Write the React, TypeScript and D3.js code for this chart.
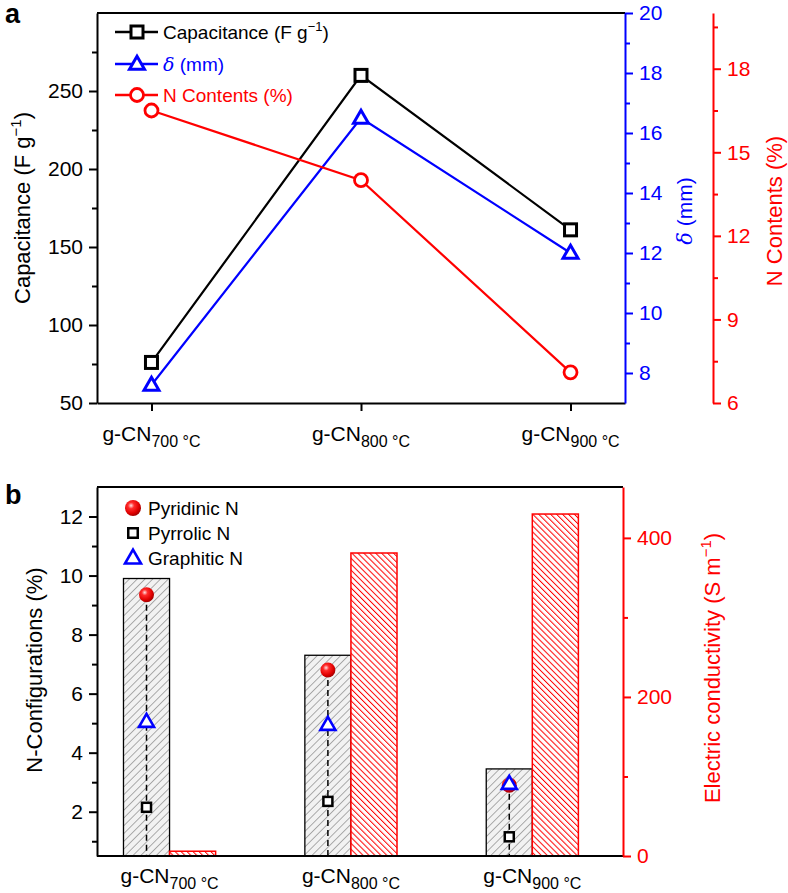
import React, { useRef, useEffect } from 'react'
import * as d3 from 'd3'

// temperatures of the three samples
const samples = ['700', '800', '900']

// panel a
const capacitance = [76, 260, 161]
const delta = [7.6, 16.5, 12.0]
const nContents = [16.5, 14.0, 7.1]
const capTicks = [50, 100, 150, 200, 250]
const capMinor = [75, 125, 175, 225, 275]
const deltaTicks = [8, 10, 12, 14, 16, 18, 20]
const deltaMinor = [9, 11, 13, 15, 17, 19]
const nTicks = [6, 9, 12, 15, 18]
const nMinor = [7.5, 10.5, 13.5, 16.5, 19.5]

// panel b
const nTotal = [9.9, 7.3, 3.45]
const pyridinic = [9.35, 6.8, 2.9]
const pyrrolic = [2.15, 2.35, 1.15]
const graphitic = [5.05, 4.95, 2.95]
const conductivity = [6, 381, 430]
const cfgTicks = [2, 4, 6, 8, 10, 12]
const cfgMinor = [1, 3, 5, 7, 9, 11]
const condTicks = [0, 200, 400]
const condMinor = [100, 300]

const FONT = '"Liberation Sans", Arial, Helvetica, sans-serif'
const RED = '#ff0000'
const BLUE = '#0000ff'

const W = 788
const H = 893

function styleAxis(g, axisFn, scale, major, minor, color) {
    g.call(axisFn(scale).tickValues(major).tickSize(8).tickSizeOuter(0).tickPadding(6))
    g.attr('font-size', 21).attr('font-family', FONT)
    g.select('.domain').attr('stroke', color).attr('stroke-width', 2)
    g.selectAll('.tick line').attr('stroke', color).attr('stroke-width', 2)
    g.selectAll('.tick text').attr('fill', color)
    const m = g.append('g')
    m.call(axisFn(scale).tickValues(minor).tickSize(5).tickSizeOuter(0).tickFormat(() => ''))
    m.select('.domain').remove()
    m.selectAll('.tick line').attr('stroke', color).attr('stroke-width', 2)
}

function sampleLabel(g, x, y, s) {
    const t = g.append('text')
        .attr('x', x).attr('y', y)
        .attr('text-anchor', 'middle')
        .attr('font-size', 21)
        .attr('font-family', FONT)
    t.append('tspan').text('g-CN')
    t.append('tspan').attr('font-size', 16).attr('dy', 6).text(`${s} °C`)
}

function square(g, x, y, size, sw) {
    g.append('rect')
        .attr('x', x - size / 2).attr('y', y - size / 2)
        .attr('width', size).attr('height', size)
        .attr('fill', 'white').attr('stroke', 'black').attr('stroke-width', sw)
}

function triangle(g, x, y, size, sw) {
    const h = size * 0.87
    g.append('path')
        .attr('d', `M${x},${y - h * 0.6}L${x + size / 2},${y + h * 0.4}L${x - size / 2},${y + h * 0.4}Z`)
        .attr('fill', 'white').attr('stroke', BLUE).attr('stroke-width', sw)
        .attr('stroke-linejoin', 'miter')
}

function circle(g, x, y, r) {
    g.append('circle')
        .attr('cx', x).attr('cy', y).attr('r', r)
        .attr('fill', 'white').attr('stroke', RED).attr('stroke-width', 2.8)
}

function sphere(g, x, y, r) {
    g.append('circle')
        .attr('cx', x).attr('cy', y).attr('r', r)
        .attr('fill', 'url(#sphere)')
}

export default function App() {
    const svgRef = useRef(null)

    useEffect(() => {
        draw()
    }, [])

    const draw = () => {
        const svg = d3.select(svgRef.current)
        svg.selectAll('*').remove()

        const defs = svg.append('defs')
        const grayHatch = defs.append('pattern')
            .attr('id', 'grayHatch')
            .attr('patternUnits', 'userSpaceOnUse')
            .attr('width', 5.5).attr('height', 5.5)
            .attr('patternTransform', 'rotate(45)')
        grayHatch.append('rect').attr('width', 5.5).attr('height', 5.5).attr('fill', '#f2f2f2')
        grayHatch.append('line').attr('x1', 0).attr('y1', 0).attr('x2', 0).attr('y2', 5.5)
            .attr('stroke', '#8c8c8c').attr('stroke-width', 1.4)
        const redHatch = defs.append('pattern')
            .attr('id', 'redHatch')
            .attr('patternUnits', 'userSpaceOnUse')
            .attr('width', 4.2).attr('height', 4.2)
            .attr('patternTransform', 'rotate(-45)')
        redHatch.append('rect').attr('width', 4.2).attr('height', 4.2).attr('fill', 'white')
        redHatch.append('line').attr('x1', 0).attr('y1', 0).attr('x2', 0).attr('y2', 4.2)
            .attr('stroke', RED).attr('stroke-width', 2)
        const grad = defs.append('radialGradient')
            .attr('id', 'sphere')
            .attr('cx', '38%').attr('cy', '35%').attr('r', '65%')
        grad.append('stop').attr('offset', '0%').attr('stop-color', '#ffe0e0')
        grad.append('stop').attr('offset', '30%').attr('stop-color', '#ff2a2a')
        grad.append('stop').attr('offset', '75%').attr('stop-color', '#e00000')
        grad.append('stop').attr('offset', '100%').attr('stop-color', '#a80000')

        // ---------------- panel a ----------------
        const aL = 97, aR = 625, aT = 13, aB = 403
        const x = d3.scalePoint().domain(samples).range([aL, aR]).padding(0.26)
        const yCap = d3.scaleLinear().domain([50, 300]).range([aB, aT])
        const yDelta = d3.scaleLinear().domain([7, 20]).range([aB, aT])
        const yN = d3.scaleLinear().domain([6, 20]).range([aB, aT])

        const a = svg.append('g')

        a.append('line').attr('x1', aL).attr('x2', aR).attr('y1', aT).attr('y2', aT)
            .attr('stroke', 'black').attr('stroke-width', 2)

        const xa = a.append('g').attr('transform', `translate(0,${aB})`)
        xa.call(d3.axisBottom(x).tickSize(8).tickSizeOuter(0).tickFormat(() => ''))
        xa.select('.domain').attr('stroke', 'black').attr('stroke-width', 2)
        xa.selectAll('.tick line').attr('stroke', 'black').attr('stroke-width', 2)
        samples.forEach(s => sampleLabel(a, x(s), 441, s))

        styleAxis(a.append('g').attr('transform', `translate(${aL},0)`), d3.axisLeft, yCap, capTicks, capMinor, 'black')
        styleAxis(a.append('g').attr('transform', `translate(${aR},0)`), d3.axisRight, yDelta, deltaTicks, deltaMinor, BLUE)
        styleAxis(a.append('g').attr('transform', `translate(713,0)`), d3.axisRight, yN, nTicks, nMinor, RED)

        const series = [
            { vals: capacitance, y: yCap, color: 'black' },
            { vals: delta, y: yDelta, color: BLUE },
            { vals: nContents, y: yN, color: RED },
        ]
        series.forEach(sr => {
            const line = d3.line().x((d, i) => x(samples[i])).y(d => sr.y(d))
            a.append('path').attr('d', line(sr.vals))
                .attr('fill', 'none').attr('stroke', sr.color).attr('stroke-width', 2.2)
        })
        samples.forEach((s, i) => {
            circle(a, x(s), yN(nContents[i]), 6.5)
            triangle(a, x(s), yDelta(delta[i]), 15, 3)
            square(a, x(s), yCap(capacitance[i]), 12, 3)
        })

        // legend a
        const legA = [
            { label: 'cap', color: 'black', y: 32 },
            { label: 'delta', color: BLUE, y: 64 },
            { label: 'n', color: RED, y: 95 },
        ]
        legA.forEach(l => {
            a.append('line').attr('x1', 115).attr('x2', 158).attr('y1', l.y).attr('y2', l.y)
                .attr('stroke', l.color).attr('stroke-width', 2.5)
            if (l.label === 'cap') square(a, 137, l.y, 12, 3)
            if (l.label === 'delta') triangle(a, 137, l.y, 15, 3)
            if (l.label === 'n') circle(a, 137, l.y, 6.5)
            const t = a.append('text').attr('x', 163).attr('y', l.y + 7)
                .attr('font-size', 19).attr('font-family', FONT).attr('fill', l.color)
            if (l.label === 'cap') {
                t.append('tspan').text('Capacitance (F g')
                t.append('tspan').attr('font-size', 13).attr('dy', -8).text('−1')
                t.append('tspan').attr('dy', 8).text(')')
            }
            if (l.label === 'delta') {
                t.append('tspan').attr('font-style', 'italic').attr('font-family', '"DejaVu Serif", serif').text('δ')
                t.append('tspan').text(' (mm)')
            }
            if (l.label === 'n') t.text('N Contents (%)')
        })

        // axis titles a
        const capTitle = a.append('text')
            .attr('transform', `translate(30,${(aT + aB) / 2}) rotate(-90)`)
            .attr('text-anchor', 'middle').attr('font-size', 22).attr('font-family', FONT)
        capTitle.append('tspan').text('Capacitance (F g')
        capTitle.append('tspan').attr('font-size', 15).attr('dy', -9).text('−1')
        capTitle.append('tspan').attr('dy', 9).text(')')

        const dTitle = a.append('text')
            .attr('transform', `translate(692,211) rotate(-90)`)
            .attr('text-anchor', 'middle').attr('font-size', 21).attr('font-family', FONT).attr('fill', BLUE)
        dTitle.append('tspan').attr('font-style', 'italic').attr('font-family', '"DejaVu Serif", serif').text('δ')
        dTitle.append('tspan').text(' (mm)')

        a.append('text')
            .attr('transform', `translate(782,211) rotate(-90)`)
            .attr('text-anchor', 'middle').attr('font-size', 22).attr('font-family', FONT).attr('fill', RED)
            .text('N Contents (%)')

        a.append('text').attr('x', 5).attr('y', 23)
            .attr('font-size', 27).attr('font-weight', 'bold').attr('font-family', FONT).text('a')

        // ---------------- panel b ----------------
        const bL = 97, bR = 623, bT = 487, bB = 856
        const xb = d3.scaleLinear().domain([-0.4, 2.5]).range([bL, bR])
        const yCfg = d3.scaleLinear().domain([0.5, 13]).range([bB, bT])
        const yCond = d3.scaleLinear().domain([0, 464]).range([bB, bT])
        const bw = (xb(1) - xb(0)) * 0.254

        const b = svg.append('g')

        samples.forEach((s, i) => {
            const c = xb(i)
            b.append('rect')
                .attr('x', c - bw).attr('y', yCfg(nTotal[i]))
                .attr('width', bw).attr('height', bB - yCfg(nTotal[i]))
                .attr('fill', 'url(#grayHatch)').attr('stroke', 'black').attr('stroke-width', 1.3)
            b.append('rect')
                .attr('x', c).attr('y', yCond(conductivity[i]))
                .attr('width', bw).attr('height', bB - yCond(conductivity[i]))
                .attr('fill', 'url(#redHatch)').attr('stroke', RED).attr('stroke-width', 1.5)
        })

        b.append('line').attr('x1', bL).attr('x2', bR).attr('y1', bT).attr('y2', bT)
            .attr('stroke', 'black').attr('stroke-width', 2)
        b.append('line').attr('x1', bL).attr('x2', bR).attr('y1', bB).attr('y2', bB)
            .attr('stroke', 'black').attr('stroke-width', 2)

        styleAxis(b.append('g').attr('transform', `translate(${bL},0)`), d3.axisLeft, yCfg, cfgTicks, cfgMinor, 'black')
        styleAxis(b.append('g').attr('transform', `translate(${bR},0)`), d3.axisRight, yCond, condTicks, condMinor, RED)

        samples.forEach((s, i) => {
            const mx = xb(i) - bw / 2
            const top = Math.max(pyridinic[i], graphitic[i], pyrrolic[i])
            b.append('line').attr('x1', mx).attr('x2', mx).attr('y1', yCfg(top)).attr('y2', bB)
                .attr('stroke', 'black').attr('stroke-width', 1.5).attr('stroke-dasharray', '6,4')
            sphere(b, mx, yCfg(pyridinic[i]), 7.5)
            square(b, mx, yCfg(pyrrolic[i]), 9, 2.5)
            triangle(b, mx, yCfg(graphitic[i]), 15, 2.6)
            sampleLabel(b, xb(i), 883, s)
        })

        // legend b
        sphere(b, 133, 508, 8)
        square(b, 133, 533, 9.5, 2.5)
        triangle(b, 133, 558, 16, 2.6)
        const legB = ['Pyridinic N', 'Pyrrolic N', 'Graphitic N']
        legB.forEach((l, i) => {
            b.append('text').attr('x', 148).attr('y', 515 + i * 25)
                .attr('font-size', 19).attr('font-family', FONT).text(l)
        })

        b.append('text')
            .attr('transform', `translate(42,670) rotate(-90)`)
            .attr('text-anchor', 'middle').attr('font-size', 22).attr('font-family', FONT)
            .text('N-Configurations (%)')

        const cTitle = b.append('text')
            .attr('transform', `translate(720,668) rotate(-90)`)
            .attr('text-anchor', 'middle').attr('font-size', 22).attr('font-family', FONT).attr('fill', RED)
        cTitle.append('tspan').text('Electric conductivity (S m')
        cTitle.append('tspan').attr('font-size', 15).attr('dy', -9).text('−1')
        cTitle.append('tspan').attr('dy', 9).text(')')

        b.append('text').attr('x', 5).attr('y', 504)
            .attr('font-size', 27).attr('font-weight', 'bold').attr('font-family', FONT).text('b')
    }

    return (
        <svg
            ref={svgRef}
            width={W}
            height={H}
            style={{ position: 'absolute', left: 0, top: 0, background: 'white' }}
        ></svg>
    )
}
